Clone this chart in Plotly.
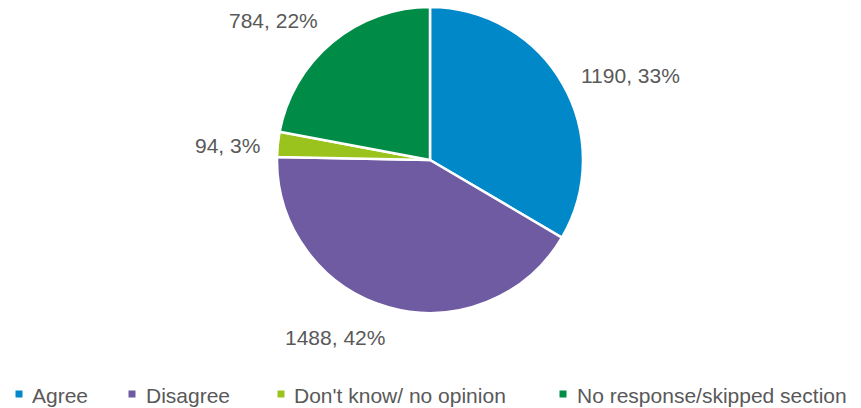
import plotly.graph_objects as go

categories = ["Agree", "Disagree", "Don't know/ no opinion", "No response/skipped section"]
counts = [1190, 1488, 94, 784]
colors = ["#0088C9", "#6E5BA1", "#9BC31D", "#008C47"]

W, H = 861, 408
FONT = "Liberation Sans, Arial, sans-serif"
TEXT_COLOR = "#595959"

# data-label anchor points (pixels from the top-left corner)
label_px = [(630, 75), (335, 337), (227, 145), (273, 20)]
# legend key centres and text starts (pixels)
key_x = [19, 132, 281, 563]
key_text_x = [30, 144, 292, 575]
legend_y = 394

total = sum(counts)


def px_x(v):
    return v / W


def px_y(v):
    return 1 - v / H


fig = go.Figure()
fig.add_trace(go.Pie(
    labels=categories,
    values=counts,
    sort=False,
    direction="clockwise",
    rotation=0,
    marker=dict(colors=colors, line=dict(color="white", width=2.5)),
    textinfo="none",
    hoverinfo="label+value+percent",
    domain=dict(x=[px_x(430 - 153), px_x(430 + 153)], y=[px_y(313), px_y(7)]),
    showlegend=False,
))

# value, percentage labels beside each slice
for (px, py), v in zip(label_px, counts):
    fig.add_annotation(
        x=px_x(px), y=px_y(py), xref="paper", yref="paper",
        text=f"{v}, {round(100 * v / total)}%",
        showarrow=False, xanchor="center", yanchor="middle",
        font=dict(size=21, color=TEXT_COLOR, family=FONT),
    )

# legend row along the bottom: small square key + category name
half = 3.5
for cx, tx, name, col in zip(key_x, key_text_x, categories, colors):
    fig.add_shape(
        type="rect", xref="paper", yref="paper",
        x0=px_x(cx - half), x1=px_x(cx + half),
        y0=px_y(legend_y + half), y1=px_y(legend_y - half),
        fillcolor=col, line=dict(width=0),
    )
    fig.add_annotation(
        x=px_x(tx), y=px_y(legend_y + 1), xref="paper", yref="paper",
        text=name, showarrow=False, xanchor="left", yanchor="middle",
        font=dict(size=21, color=TEXT_COLOR, family=FONT),
    )

fig.update_layout(
    width=W, height=H,
    margin=dict(l=0, r=0, t=0, b=0),
    paper_bgcolor="white",
    plot_bgcolor="white",
    font=dict(family=FONT, color=TEXT_COLOR),
    showlegend=False,
)

fig.write_html("out.html")
